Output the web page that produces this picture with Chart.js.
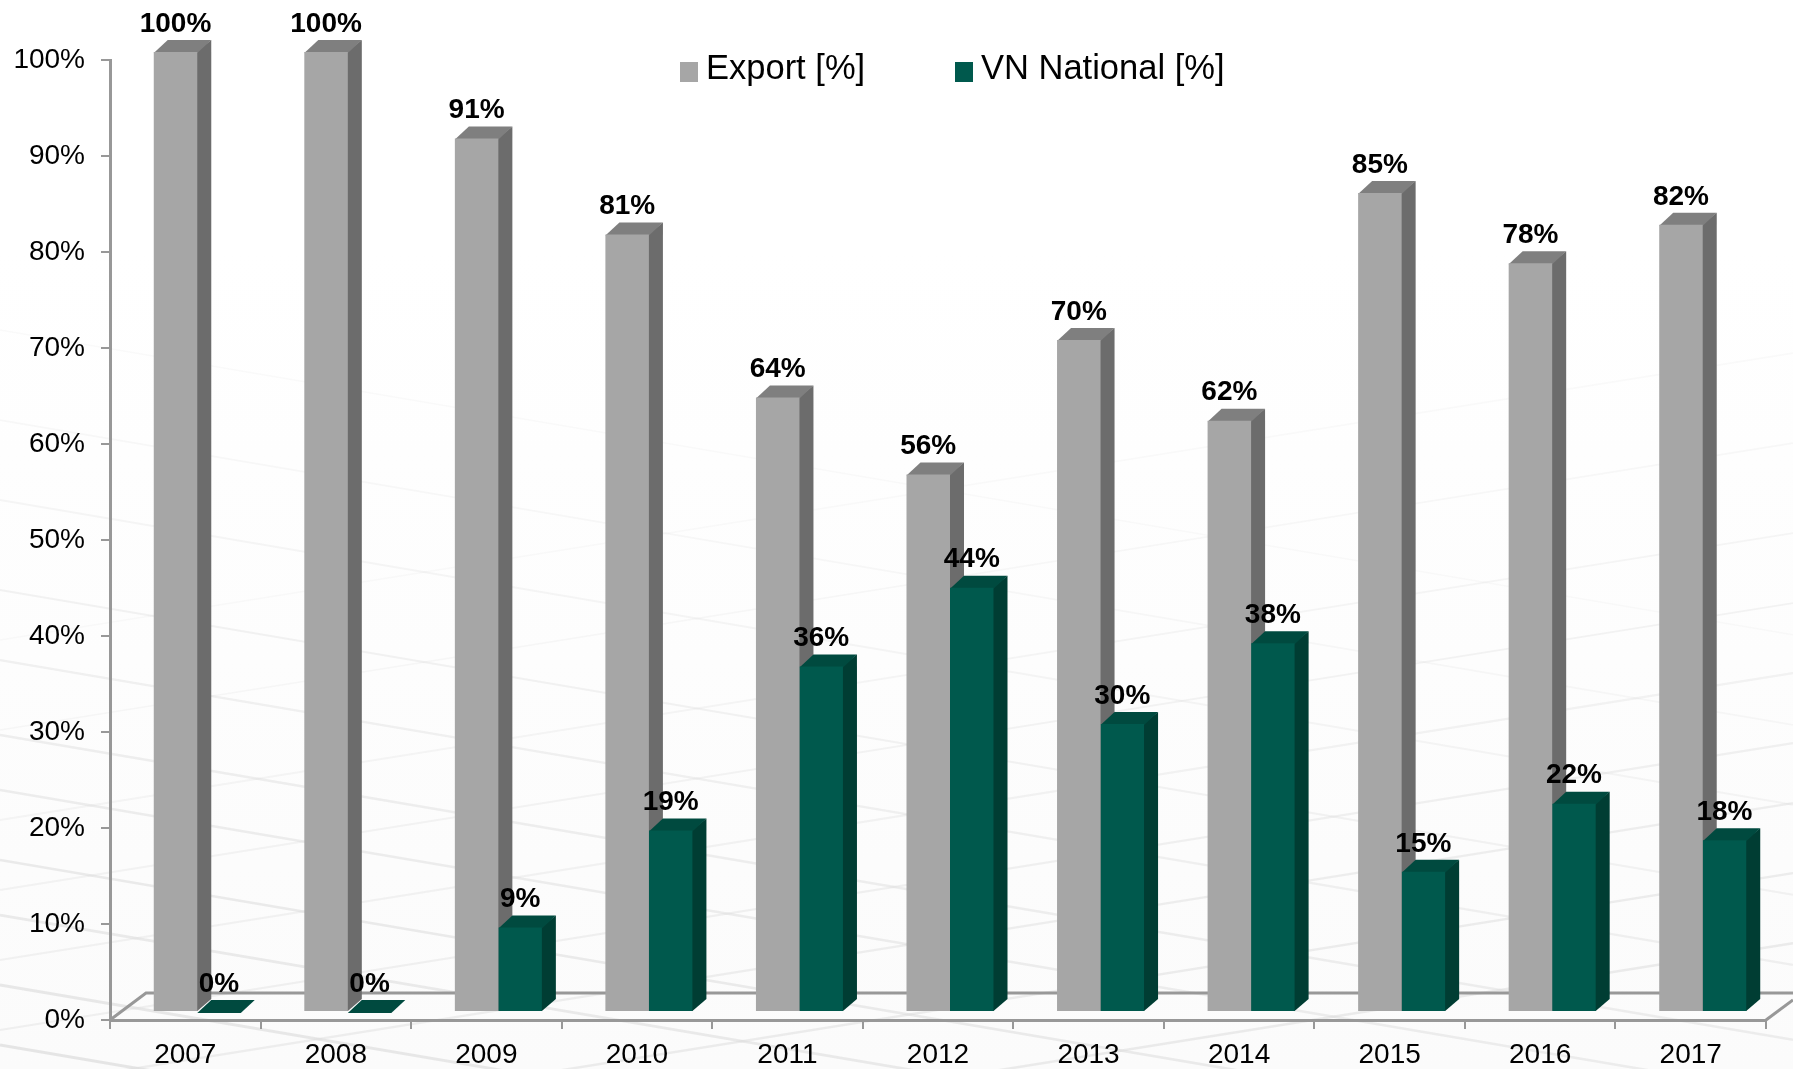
<!DOCTYPE html>
<html><head><meta charset="utf-8">
<style>html,body{margin:0;padding:0;background:#fff}canvas{display:block}</style>
<script src="https://cdn.jsdelivr.net/npm/chart.js@4"></script></head>
<body><div style="width:1793px;height:1069px;position:relative"><canvas id="c"></canvas></div>
<script>
const years=['2007','2008','2009','2010','2011','2012','2013','2014','2015','2016','2017'];
const exportPct=[100,100,91,81,64,56,70,61.6,85.3,78,82];
const nationalPct=[0,0,8.8,18.9,36,44.2,30,38.4,14.6,21.7,17.9];
const seriesNames=['Export [%]','VN National [%]'];
const FONT='"Liberation Sans", Arial, sans-serif';
const AXIS='#989898';
const SHIFT={x:12,y:-8};
const DEPTH={x:14,y:12};
const faces=[{front:'#A6A6A6',side:'#6C6C6C',top:'#7F7F7F'},{front:'#00594D',side:'#003D33',top:'#004A3F'}];
const weaveDown=[330,420,500,590,660,735,790,860,915,985,1045];
const weaveUp=[640,730,820,890,960,1030,1090,1160,1230];
function poly(ctx,pts,color){ctx.fillStyle=color;ctx.beginPath();pts.forEach((p,i)=>i?ctx.lineTo(p[0],p[1]):ctx.moveTo(p[0],p[1]));ctx.closePath();ctx.fill();}
const texture={id:'texture',beforeDraw(chart){
  const ctx=chart.ctx,W=chart.width,H=chart.height;ctx.save();
  const g=ctx.createLinearGradient(0,250,0,H);g.addColorStop(0,'#ffffff');g.addColorStop(1,'#fbfbfb');
  ctx.fillStyle=g;ctx.fillRect(0,0,W,H);
  weaveDown.forEach(y=>{
    const k=(y-300)/750;
    ctx.strokeStyle='rgba(215,215,215,'+(0.1+0.5*k)+')';ctx.lineWidth=1.5+1.5*k;
    ctx.beginPath();ctx.moveTo(0,y);ctx.lineTo(W,y+W*0.17);ctx.stroke();
  });
  weaveUp.forEach(y=>{
    const k=(y-600)/630;
    ctx.strokeStyle='rgba(220,220,220,'+(0.1+0.45*k)+')';ctx.lineWidth=1.5+k;
    ctx.beginPath();ctx.moveTo(0,y);ctx.lineTo(W,y-W*0.16);ctx.stroke();
  });
  ctx.restore();
}};
const floor={id:'floor',beforeDatasetsDraw(chart){
  const a=chart.chartArea,ctx=chart.ctx;ctx.save();
  ctx.strokeStyle=AXIS;ctx.lineWidth=3;
  ctx.beginPath();ctx.moveTo(a.left,a.bottom);ctx.lineTo(a.left+36,a.bottom-27);ctx.lineTo(chart.width,a.bottom-27);ctx.stroke();
  ctx.beginPath();ctx.moveTo(a.right,a.bottom);ctx.lineTo(chart.width,a.bottom-20);ctx.stroke();
  ctx.restore();
}};
const box3d={id:'box3d',
  beforeDatasetsDraw(chart){
    const ctx=chart.ctx;ctx.save();ctx.translate(SHIFT.x,SHIFT.y);
    [0,1].forEach(i=>{
      const f=faces[i];
      chart.getDatasetMeta(i).data.forEach(b=>{
        const l=b.x-b.width/2,r=b.x+b.width/2,t=b.y,bt=b.base;
        if(bt>t) poly(ctx,[[r-1,t],[r+DEPTH.x,t-DEPTH.y],[r+DEPTH.x,bt-DEPTH.y],[r,bt],[r-1,bt]],f.side);
        poly(ctx,[[l,t+1],[r,t+1],[r+DEPTH.x,t-DEPTH.y],[l+DEPTH.x,t-DEPTH.y]],f.top);
      });
    });
    ctx.restore();
  },
  beforeDatasetDraw(chart){const c=chart.ctx;c.save();c.translate(SHIFT.x,SHIFT.y);},
  afterDatasetDraw(chart){chart.ctx.restore();},
  afterDatasetsDraw(chart){
    const ctx=chart.ctx;ctx.save();ctx.fillStyle='#000';ctx.font='bold 28px '+FONT;ctx.textAlign='center';ctx.textBaseline='middle';
    chart.data.datasets.forEach((d,i)=>{chart.getDatasetMeta(i).data.forEach((b,j)=>{
      ctx.fillText(Math.round(d.data[j])+'%',b.x+SHIFT.x,b.y+SHIFT.y-28);
    });});
    ctx.restore();
  }};
const keyBox={id:'keyBox',afterDraw(chart){
  const ctx=chart.ctx;ctx.save();ctx.font='34.5px '+FONT;ctx.textBaseline='middle';ctx.textAlign='left';
  const spots=[680,955];
  seriesNames.forEach((n,i)=>{
    ctx.fillStyle=faces[i].front;ctx.fillRect(spots[i],62,18,20);
    ctx.fillStyle='#000';ctx.fillText(n,spots[i]+26,69);
  });
  ctx.restore();
}};
new Chart(document.getElementById('c'),{
  type:'bar',
  data:{labels:years,datasets:[
    {label:seriesNames[0],data:exportPct,backgroundColor:faces[0].front,clip:false},
    {label:seriesNames[1],data:nationalPct,backgroundColor:faces[1].front,clip:false}
  ]},
  options:{
    responsive:true,maintainAspectRatio:false,animation:false,
    layout:{padding:{top:60,right:27,left:0,bottom:0}},
    datasets:{bar:{categoryPercentage:0.578,barPercentage:1}},
    plugins:{legend:{display:false},title:{display:false},tooltip:{enabled:false}},
    scales:{
      x:{offset:true,
        grid:{offset:true,drawOnChartArea:false,color:AXIS,tickColor:AXIS,tickLength:9,lineWidth:2},
        border:{color:AXIS,width:3},
        ticks:{color:'#000',font:{family:FONT,size:28},padding:9,maxRotation:0,autoSkip:false},
        afterFit(s){s.height=49;}},
      y:{min:0,max:100,
        grid:{drawOnChartArea:false,color:AXIS,tickColor:AXIS,tickLength:9,lineWidth:2},
        border:{color:AXIS,width:3},
        ticks:{stepSize:10,color:'#000',font:{family:FONT,size:28},padding:16,callback:v=>v+'%'},
        afterFit(s){s.width=110;}}
    }
  },
  plugins:[texture,floor,box3d,keyBox]
});
</script></body></html>
